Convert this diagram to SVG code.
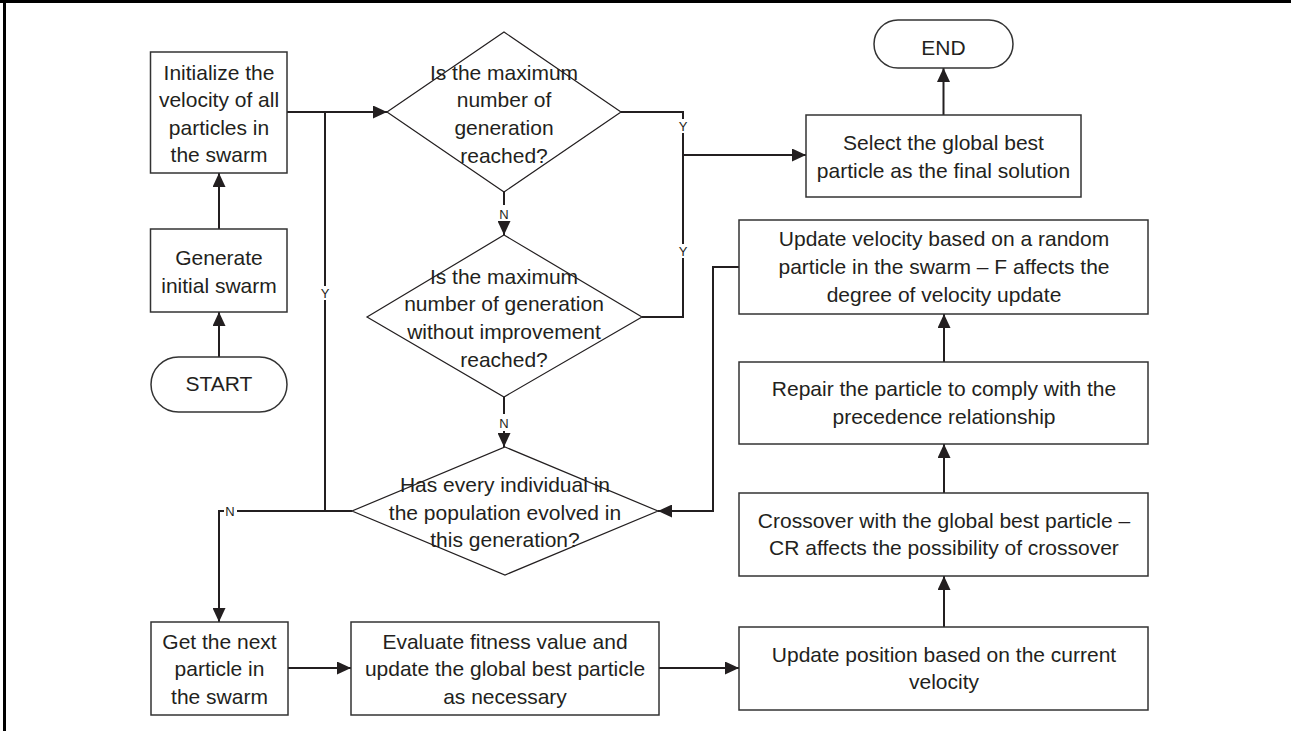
<svg xmlns="http://www.w3.org/2000/svg" width="1291" height="731" viewBox="0 0 1291 731">
<style>
text{font-family:"Liberation Sans",Arial,sans-serif;font-size:21px;fill:#231f20;text-anchor:middle}
.lbl{font-size:13px}
.box{fill:#fff;stroke:#333;stroke-width:1.5}
.dia{fill:none;stroke:#231f20;stroke-width:1.2}
.con{fill:none;stroke:#231f20;stroke-width:2}
</style>
<defs>
<marker id="ah" markerUnits="userSpaceOnUse" markerWidth="14" markerHeight="13" refX="14" refY="6.5" orient="auto">
<path d="M0,0 L14,6.5 L0,13 z" fill="#231f20"/>
</marker>
</defs>
<rect width="1291" height="731" fill="#fff"/>
<g id="frame">
<line x1="0" y1="1.5" x2="1291" y2="1.5" stroke="#000" stroke-width="3"/>
<line x1="4.5" y1="0" x2="4.5" y2="731" stroke="#000" stroke-width="3"/>
</g>
<g id="connectors">
<path class="con" d="M219,357 V312" marker-end="url(#ah)"/>
<path class="con" d="M219,229 V173" marker-end="url(#ah)"/>
<path class="con" d="M287,112 H387" marker-end="url(#ah)"/>
<path class="con" d="M352,511 H325 V300 M325,286 V112"/>
<text class="lbl" x="325" y="297.5">Y</text>
<path class="con" d="M504,192 V205"/>
<text class="lbl" x="504" y="218.5">N</text>
<path class="con" d="M504,221 V235" marker-end="url(#ah)"/>
<path class="con" d="M621,112 H683 V119 M683,133 V244 M683,258 V317 H642"/>
<text class="lbl" x="683" y="130.5">Y</text>
<text class="lbl" x="683" y="255.5">Y</text>
<path class="con" d="M683,155 H806" marker-end="url(#ah)"/>
<path class="con" d="M943.5,115 V68" marker-end="url(#ah)"/>
<path class="con" d="M504,397 V414"/>
<text class="lbl" x="504" y="427.5">N</text>
<path class="con" d="M504,431 V447" marker-end="url(#ah)"/>
<path class="con" d="M352,511 H237"/>
<text class="lbl" x="230" y="515.5">N</text>
<path class="con" d="M224,511 H219 V622" marker-end="url(#ah)"/>
<path class="con" d="M288,668 H351" marker-end="url(#ah)"/>
<path class="con" d="M659,668 H739" marker-end="url(#ah)"/>
<path class="con" d="M944,627 V576" marker-end="url(#ah)"/>
<path class="con" d="M944,493 V444" marker-end="url(#ah)"/>
<path class="con" d="M944,362 V314" marker-end="url(#ah)"/>
<path class="con" d="M739,267 H713 V511 H658" marker-end="url(#ah)"/>
</g>
<g id="start">
<rect class="box" x="151" y="357" width="136" height="55" rx="27.5"/>
<text x="219" y="391">START</text>
</g>
<g id="generate">
<rect class="box" x="150.5" y="229" width="136.5" height="83"/>
<text x="219" y="265">Generate</text>
<text x="219" y="293">initial swarm</text>
</g>
<g id="init">
<rect class="box" x="150.5" y="52" width="136.5" height="121"/>
<text x="219" y="79.5">Initialize the</text>
<text x="219" y="107">velocity of all</text>
<text x="219" y="134.5">particles in</text>
<text x="219" y="162">the swarm</text>
</g>
<g id="decision1">
<polygon class="dia" points="504,32 621,112 504,192 387,112"/>
<text x="504" y="80">Is the maximum</text>
<text x="504" y="107">number of</text>
<text x="504" y="135">generation</text>
<text x="504" y="163">reached?</text>
</g>
<g id="decision2">
<polygon class="dia" points="504,235 642,317 504,397 367,317"/>
<text x="504" y="284">Is the maximum</text>
<text x="504" y="311">number of generation</text>
<text x="504" y="339">without improvement</text>
<text x="504" y="367">reached?</text>
</g>
<g id="decision3">
<polygon class="dia" points="505,447 658,511 505,575 352,511"/>
<text x="505" y="492">Has every individual in</text>
<text x="505" y="520">the population evolved in</text>
<text x="505" y="547">this generation?</text>
</g>
<g id="end">
<rect class="box" x="874" y="20" width="139" height="48" rx="24"/>
<text x="943.5" y="55">END</text>
</g>
<g id="select">
<rect class="box" x="806" y="115" width="275" height="82"/>
<text x="943.5" y="149.5">Select the global best</text>
<text x="943.5" y="177.5">particle as the final solution</text>
</g>
<g id="updatevelocity">
<rect class="box" x="739" y="220" width="409" height="94"/>
<text x="944" y="246">Update velocity based on a random</text>
<text x="944" y="274">particle in the swarm – F affects the</text>
<text x="944" y="302">degree of velocity update</text>
</g>
<g id="repair">
<rect class="box" x="739" y="362" width="409" height="82"/>
<text x="944" y="396">Repair the particle to comply with the</text>
<text x="944" y="424">precedence relationship</text>
</g>
<g id="crossover">
<rect class="box" x="739" y="493" width="409" height="83"/>
<text x="944" y="528">Crossover with the global best particle –</text>
<text x="944" y="555">CR affects the possibility of crossover</text>
</g>
<g id="updateposition">
<rect class="box" x="739" y="627" width="409" height="83"/>
<text x="944" y="662">Update position based on the current</text>
<text x="944" y="689">velocity</text>
</g>
<g id="getnext">
<rect class="box" x="151" y="622" width="137" height="93"/>
<text x="219.5" y="649">Get the next</text>
<text x="219.5" y="676">particle in</text>
<text x="219.5" y="704">the swarm</text>
</g>
<g id="evaluate">
<rect class="box" x="351" y="622" width="308" height="93"/>
<text x="505" y="649">Evaluate fitness value and</text>
<text x="505" y="676">update the global best particle</text>
<text x="505" y="704">as necessary</text>
</g>
</svg>
